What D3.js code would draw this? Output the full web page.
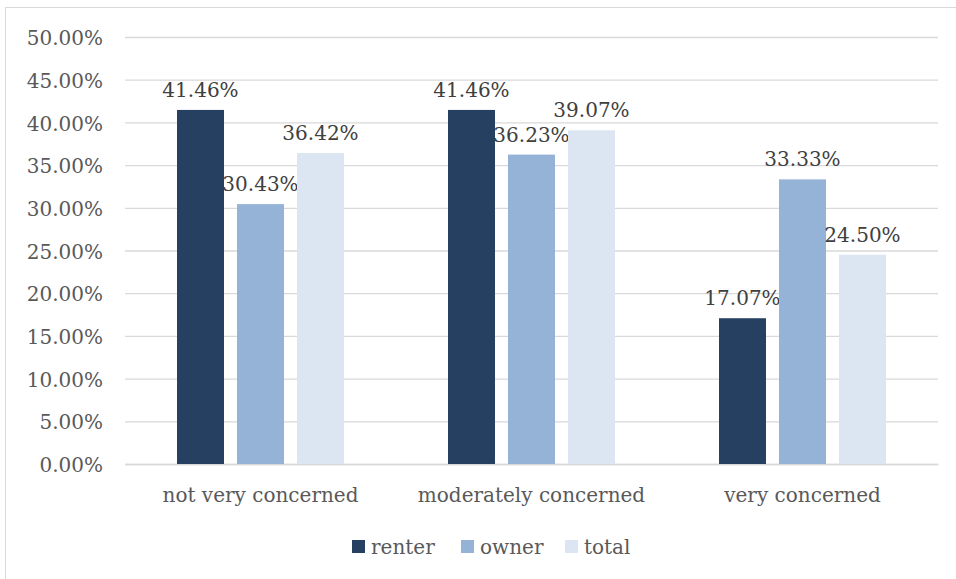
<!DOCTYPE html>
<html>
<head>
<meta charset="utf-8">
<script src="https://cdn.jsdelivr.net/npm/d3@7"></script>
<style>
    body { margin: 0; background: #fff; }
    svg { display: block; font-family: 'DejaVu Serif', serif; }
</style>
</head>
<body>
<div id="chart-container"></div>
<script>
// Data
const categories = ['not very concerned', 'moderately concerned', 'very concerned'];
const seriesNames = ['renter', 'owner', 'total'];
const renter = [41.46, 41.46, 17.07];
const owner = [30.43, 36.23, 33.33];
const total = [36.42, 39.07, 24.50];
const yTicks = [0, 5, 10, 15, 20, 25, 30, 35, 40, 45, 50];

const colors = { renter: '#264061', owner: '#95b3d7', total: '#dce6f2' };
const valuesBySeries = { renter, owner, total };

const WIDTH = 956, HEIGHT = 579;
const margin = { left: 125, right: 18, top: 37, bottom: 115 };
const FONT_SIZE = 20;

const canvas = d3.select('#chart-container')
    .append('svg')
    .attr('width', WIDTH)
    .attr('height', HEIGHT);

// Chart area frame (it runs off the right and bottom edges)
canvas.append('rect')
    .attr('x', 5.5)
    .attr('y', 7.5)
    .attr('width', 1000)
    .attr('height', 700)
    .attr('fill', 'none')
    .attr('stroke', '#d9d9d9');

const plotRight = WIDTH - margin.right;
const plotBottom = HEIGHT - margin.bottom;

// Scales
const x0 = d3.scaleBand()
    .domain(categories)
    .range([margin.left, plotRight]);

// step 60, bar 47 -> inner padding 13/60
const x1 = d3.scaleBand()
    .domain(seriesNames)
    .range([0, x0.bandwidth()])
    .paddingInner(13 / 60)
    .paddingOuter(0.8667);

const y = d3.scaleLinear()
    .domain([0, 50])
    .range([plotBottom, margin.top]);

// Gridlines + y labels
const yAxis = d3.axisLeft(y)
    .tickValues(yTicks)
    .tickSize(-(plotRight - margin.left))
    .tickPadding(22)
    .tickFormat(d => d.toFixed(2) + '%');
const yAxisG = canvas.append('g')
    .attr('transform', `translate(${margin.left},0)`)
    .call(yAxis);
yAxisG.select('.domain').remove();
yAxisG.selectAll('line')
    .attr('stroke', '#d9d9d9')
    .attr('stroke-width', 1.3);
yAxisG.selectAll('text')
    .attr('fill', '#595959')
    .attr('font-size', FONT_SIZE)
    .attr('font-family', 'DejaVu Serif')
    .attr('dy', '0.38em');

// Category labels
const xAxis = d3.axisBottom(x0)
    .tickSize(0)
    .tickPadding(24);
const xAxisG = canvas.append('g')
    .attr('transform', `translate(0,${plotBottom})`)
    .call(xAxis);
xAxisG.select('.domain')
    .attr('stroke', '#d9d9d9')
    .attr('stroke-width', 1.3);
xAxisG.selectAll('text')
    .attr('fill', '#595959')
    .attr('font-size', FONT_SIZE)
    .attr('font-family', 'DejaVu Serif');

// Bars, one group per category
const groups = canvas.selectAll('.cat')
    .data(categories)
    .enter()
    .append('g')
        .attr('class', 'cat')
        .attr('transform', d => `translate(${x0(d)},0)`);

const cells = groups.selectAll('.cell')
    .data((d, i) => seriesNames.map(s => ({ key: s, value: valuesBySeries[s][i] })))
    .enter()
    .append('g')
        .attr('class', 'cell');

cells.append('rect')
    .attr('x', d => x1(d.key))
    .attr('width', x1.bandwidth())
    .attr('y', d => y(d.value))
    .attr('height', d => y(0) - y(d.value))
    .attr('fill', d => colors[d.key]);

// Data labels above the bars
cells.append('text')
    .attr('x', d => x1(d.key) + x1.bandwidth() / 2)
    .attr('y', d => y(d.value) - 13)
    .attr('text-anchor', 'middle')
    .attr('fill', '#404040')
    .attr('font-size', FONT_SIZE)
    .text(d => d.value.toFixed(2) + '%');

// Legend
const legendX = [352, 461, 565];
const legend = canvas.selectAll('.legend')
    .data(seriesNames)
    .enter()
    .append('g')
        .attr('class', 'legend')
        .attr('transform', (d, i) => `translate(${legendX[i]},540)`);
legend.append('rect')
    .attr('width', 13)
    .attr('height', 13)
    .attr('fill', d => colors[d]);
legend.append('text')
    .attr('x', 19)
    .attr('y', 14)
    .attr('fill', '#595959')
    .attr('font-size', FONT_SIZE)
    .text(d => d);
</script>
</body>
</html>
